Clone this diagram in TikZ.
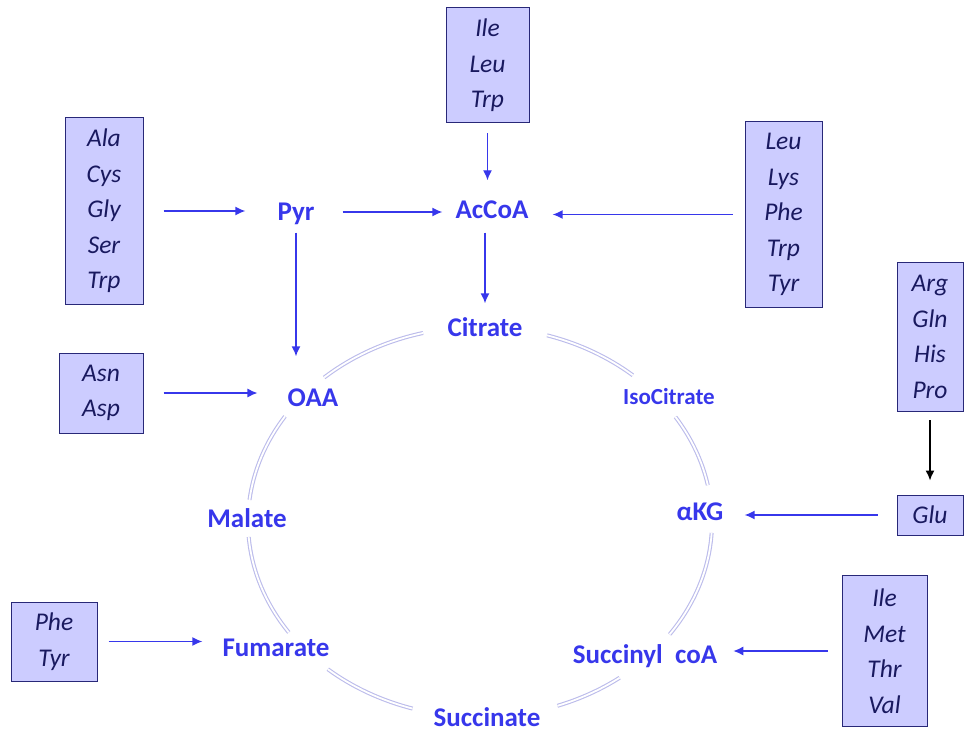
\documentclass[tikz,border=0pt]{standalone}
\usepackage{fontspec}
\setmainfont{Carlito}
\usetikzlibrary{arrows.meta}
\definecolor{boxfill}{RGB}{204,204,255}
\definecolor{boxline}{RGB}{40,40,120}
\definecolor{boxtext}{RGB}{25,25,95}
\definecolor{metblue}{RGB}{55,55,235}
\definecolor{ringcol}{RGB}{188,188,235}
\tikzset{
  >={Latex[length=10pt,width=9pt]},
}
\tikzstyle{acid}=[draw=boxline,fill=boxfill,line width=1pt,text=boxtext,align=center,
  font=\fontsize{25.5}{35.5}\selectfont\itshape,inner sep=0pt]
\tikzstyle{metab}=[text=metblue,font=\fontsize{27}{30}\selectfont\bfseries,
  inner sep=0pt,text height=17pt,text depth=0pt]
\tikzstyle{feed}=[->,metblue,line width=1.4pt]
\tikzstyle{ring}=[draw=ringcol,line width=1.1pt,double=white,double distance=1.8pt]

\begin{document}
\begin{tikzpicture}[x=1pt,y=-1pt]
  \useasboundingbox (0,0) rectangle (964,733);
  % cycle, broken at every metabolite
  \foreach \a/\b in {-73.2/-48.8,-32.6/-10.9,3.2/35.2,53/70.5,106.9/131,145.5/175.6,186.5/212.8,227.8/255.8}
    \draw[ring] (480,522) ++(\a:232 and 195) arc[start angle=\a,end angle=\b,x radius=232,y radius=195];

  \node[metab] (pyr) at (296,212) {Pyr};
  \node[metab] (accoa) at (492,210) {AcCoA};
  \node[metab] (citrate) at (485,328) {Citrate};
  \node[metab,font=\fontsize{23}{26}\selectfont\bfseries,text height=15pt] (isocit) at (669,397) {IsoCitrate};
  \node[metab] (oaa) at (313,398) {OAA};
  \node[metab] (malate) at (247,519) {Malate};
  \node[metab] (akg) at (700,512) {αKG};
  \node[metab] (succoa) at (645,655) {Succinyl\ \ coA};
  \node[metab] (succinate) at (487,718) {Succinate};
  \node[metab] (fumarate) at (276,648) {Fumarate};

  \node[acid,minimum width=78pt,minimum height=186pt] (srcPyr) at (104,211) {Ala\\Cys\\Gly\\Ser\\Trp};
  \node[acid,minimum width=83pt,minimum height=115pt] (srcAcTop) at (487.5,65.5) {Ile\\Leu\\Trp};
  \node[acid,minimum width=77pt,minimum height=185pt] (srcAcRight) at (783.5,214.5) {Leu\\Lys\\Phe\\Trp\\Tyr};
  \node[acid,minimum width=66pt,minimum height=149pt] (srcArg) at (930,337) {Arg\\Gln\\His\\Pro};
  \node[acid,minimum width=84pt,minimum height=80pt] (srcOaa) at (101,393) {Asn\\Asp};
  \node[acid,minimum width=66pt,minimum height=40pt] (srcGlu) at (930,515) {Glu};
  \node[acid,minimum width=85pt,minimum height=151pt] (srcSuc) at (884.5,651) {Ile\\Met\\Thr\\Val};
  \node[acid,minimum width=86pt,minimum height=79pt] (srcFum) at (54,641.5) {Phe\\Tyr};

  \draw[feed,shorten <=20pt,shorten >=32pt] (srcPyr) -- (srcPyr -| pyr.west);
  \draw[feed,shorten <=28pt,shorten >=13pt] (pyr) -- (pyr -| accoa.west);
  \draw[feed,shorten <=12pt,shorten >=24pt] (srcAcRight) -- (srcAcRight -| accoa.east);
  \draw[feed,shorten <=10pt,shorten >=21pt] (srcAcTop) -- (srcAcTop |- accoa.north);
  \draw[feed,shorten <=14pt,shorten >=16pt] (citrate |- accoa.south) -- (citrate);
  \draw[feed,shorten <=12pt,shorten >=33pt] (pyr) -- (pyr |- oaa.north);
  \draw[feed,shorten <=20pt,shorten >=30pt] (srcOaa) -- (srcOaa -| oaa.west);
  \draw[feed,black,shorten <=8pt,shorten >=14pt] (srcArg) -- (srcGlu);
  \draw[feed,shorten <=19pt,shorten >=21pt] (srcGlu) -- (srcGlu -| akg.east);
  \draw[feed,shorten <=14pt,shorten >=16pt] (srcSuc) -- (srcSuc -| succoa.east);
  \draw[feed,shorten <=11pt,shorten >=20pt] (srcFum) -- (srcFum -| fumarate.west);
\end{tikzpicture}
\end{document}
